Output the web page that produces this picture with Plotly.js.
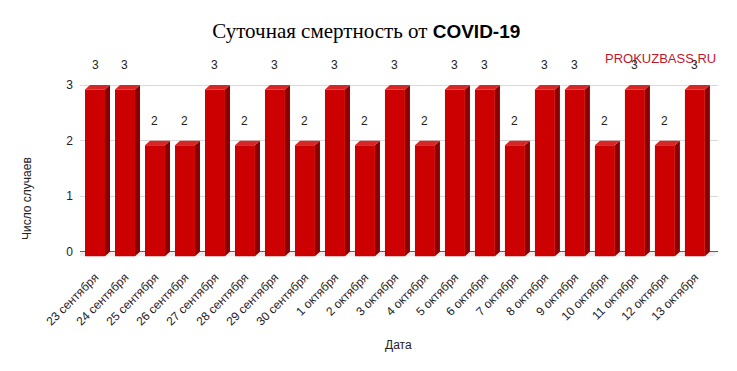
<!DOCTYPE html>
<html>
<head>
<meta charset="utf-8">
<script src="https://cdn.plot.ly/plotly-3.0.1.min.js"></script>
<style>html,body{margin:0;padding:0;background:#fff;}#chart{width:737px;height:371px;}</style>
</head>
<body>
<div id="chart"></div>
<script>
const dates = ["23 сентября","24 сентября","25 сентября","26 сентября","27 сентября","28 сентября","29 сентября","30 сентября","1 октября","2 октября","3 октября","4 октября","5 октября","6 октября","7 октября","8 октября","9 октября","10 октября","11 октября","12 октября","13 октября"];
const deaths = [3,3,2,2,3,2,3,2,3,2,3,2,3,3,2,3,3,2,3,2,3];
const yTicks = [0,1,2,3];

// 3D look parameters (in axis units)
const hw = 0.333;   // half width of front face
const dx = 0.167;   // depth offset along x
const dy = 0.081;   // depth offset along y

const idx = deaths.map((v,i)=>i);
function polys(fn){
  const X=[],Y=[];
  idx.forEach(i=>{ const p=fn(i,deaths[i]); p.forEach(q=>{X.push(q[0]);Y.push(q[1]);}); X.push(null);Y.push(null);});
  return {x:X,y:Y};
}
const frontFace = polys((i,v)=>[[i-hw,-dy],[i+hw,-dy],[i+hw,v-dy],[i-hw,v-dy],[i-hw,-dy]]);
const sideFace = polys((i,v)=>[[i+hw,-dy],[i+hw+dx,0],[i+hw+dx,v],[i+hw,v-dy],[i+hw,-dy]]);
const topFace = polys((i,v)=>[[i-hw,v-dy],[i-hw+dx,v],[i+hw+dx,v],[i+hw,v-dy],[i-hw,v-dy]]);
const xmin=-0.5, xmax=20.77;
const floorT = {x:[xmin,xmax,xmax-dx,xmin-dx,xmin], y:[0,0,-dy,-dy,0]};

const base = {type:'scatter',mode:'lines',fill:'toself',line:{width:0},hoverinfo:'skip',showlegend:false};
const traces = [
  Object.assign({},base,{x:floorT.x,y:floorT.y,fillcolor:'#ededed'}),
  Object.assign({},base,{x:sideFace.x,y:sideFace.y,fillcolor:'#8a0000'}),
  Object.assign({},base,{x:topFace.x,y:topFace.y,fillcolor:'#d62626'}),
  Object.assign({},base,{x:frontFace.x,y:frontFace.y,fillcolor:'#cc0000'})
];

const valueLabels = idx.map(i=>({x:i,y:deaths[i],xref:'x',yref:'y',text:String(deaths[i]),showarrow:false,
  yshift:20,xanchor:'center',yanchor:'middle',font:{family:'Arial, Liberation Sans, sans-serif',size:12,color:'#222'}}));

const layout = {
  width:737,height:371,
  margin:{l:80,r:19,t:84,b:111,pad:0},
  paper_bgcolor:'#fff',plot_bgcolor:'#fff',
  title:{text:'<span style="font-family:Liberation Serif, Times New Roman, serif;font-size:21px">Суточная смертность от </span><span style="font-family:Arial, Liberation Sans, sans-serif;font-weight:bold;font-size:19px">COVID-19</span>',
    font:{family:'Liberation Serif, serif',size:21,color:'#000'},x:0.497,xanchor:'center',y:1-31/371,yref:'container',yanchor:'middle'},
  xaxis:{range:[xmin,xmax],tickvals:idx,ticktext:dates,tickangle:-45,showgrid:false,zeroline:false,showline:false,ticks:'',
    ticklabelstandoff:7,
    tickfont:{family:'Arial, Liberation Sans, sans-serif',size:12,color:'#222'},fixedrange:true},
  yaxis:{range:[-0.15,3.02],tickvals:yTicks,ticktext:yTicks.map(String),showgrid:true,gridcolor:'#d9d9d9',gridwidth:1,
    zeroline:true,zerolinecolor:'#333',zerolinewidth:1,showline:false,ticks:'',ticklabelstandoff:6,
    tickfont:{family:'Arial, Liberation Sans, sans-serif',size:12,color:'#222'},fixedrange:true},
  annotations:[
    {text:'PROKUZBASS.RU',xref:'paper',yref:'paper',x:1,xanchor:'right',y:1+(84-58)/176,yanchor:'middle',showarrow:false,
     font:{family:'Arial, Liberation Sans, sans-serif',size:13,color:'#c0182a'}},
    {text:'Число случаев',xref:'paper',yref:'paper',x:-(80-27)/638,xanchor:'center',y:(260-199)/176,yanchor:'middle',textangle:-90,showarrow:false,
     font:{family:'Arial, Liberation Sans, sans-serif',size:12,color:'#222'}},
    {text:'Дата',xref:'paper',yref:'paper',x:(398-80)/638,xanchor:'center',y:-(345-260)/176,yanchor:'middle',showarrow:false,
     font:{family:'Arial, Liberation Sans, sans-serif',size:12,color:'#222'}}
  ].concat(valueLabels)
};
Plotly.newPlot('chart',traces,layout,{displayModeBar:false,staticPlot:true});
</script>
</body>
</html>
